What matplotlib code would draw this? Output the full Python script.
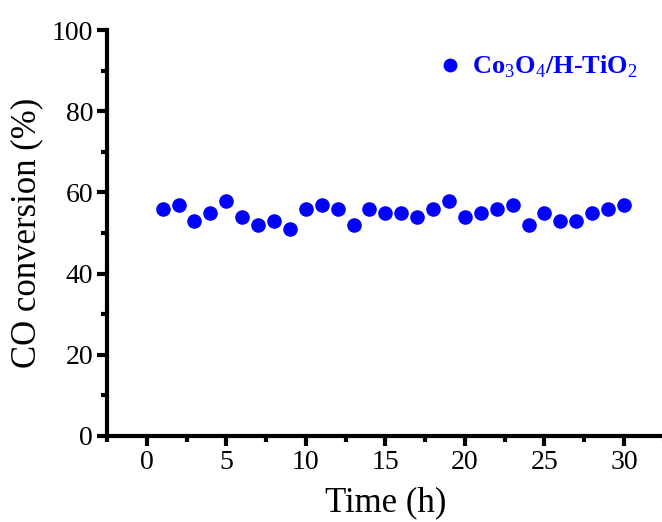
import matplotlib
matplotlib.use('Agg')
import matplotlib.pyplot as plt
from matplotlib.ticker import MultipleLocator

plt.rcParams['font.family'] = ['Liberation Serif', 'DejaVu Serif']
plt.rcParams['mathtext.fontset'] = 'custom'
plt.rcParams['mathtext.rm'] = 'Liberation Serif'
plt.rcParams['mathtext.bf'] = 'Liberation Serif:bold'

time_h = list(range(1, 31))
conversion = [56, 57, 53, 55, 58, 54, 52, 53, 51, 56,
              57, 56, 52, 56, 55, 55, 54, 56, 58, 54,
              55, 56, 57, 52, 55, 53, 53, 55, 56, 57]

fig = plt.figure(figsize=(6.62, 5.22), dpi=100)
ax = fig.add_axes([0.1616, 0.1648, 0.841, 0.7777])

ax.plot(time_h, conversion, 'o', color='#0000ff', markersize=10.5,
        markeredgewidth=0, label='Co$_3$O$_4$/H-TiO$_2$')

ax.set_xlim(-2.5, 32.5)
ax.set_ylim(0, 100)
ax.xaxis.set_major_locator(MultipleLocator(5))
ax.xaxis.set_minor_locator(MultipleLocator(2.5))
ax.yaxis.set_major_locator(MultipleLocator(20))
ax.yaxis.set_minor_locator(MultipleLocator(10))

for side in ['top', 'right']:
    ax.spines[side].set_visible(False)
for side in ['left', 'bottom']:
    ax.spines[side].set_linewidth(3)

ax.tick_params(which='major', direction='out', length=7, width=3, labelsize=20, pad=3)
ax.tick_params(which='minor', direction='out', length=4, width=3)

ax.set_xlabel('Time (h)', fontsize=25, labelpad=8)
ax.set_ylabel('CO conversion (%)', fontsize=25, labelpad=6)

leg = ax.legend(loc='upper right', frameon=False, handlelength=1.0, handletextpad=0.3,
                prop={'size': 19, 'weight': 'bold'}, bbox_to_anchor=(0.995, 1.0),
                markerscale=0.95)
for t in leg.get_texts():
    t.set_color('#0000ff')

fig.savefig('out.png', dpi=100)
